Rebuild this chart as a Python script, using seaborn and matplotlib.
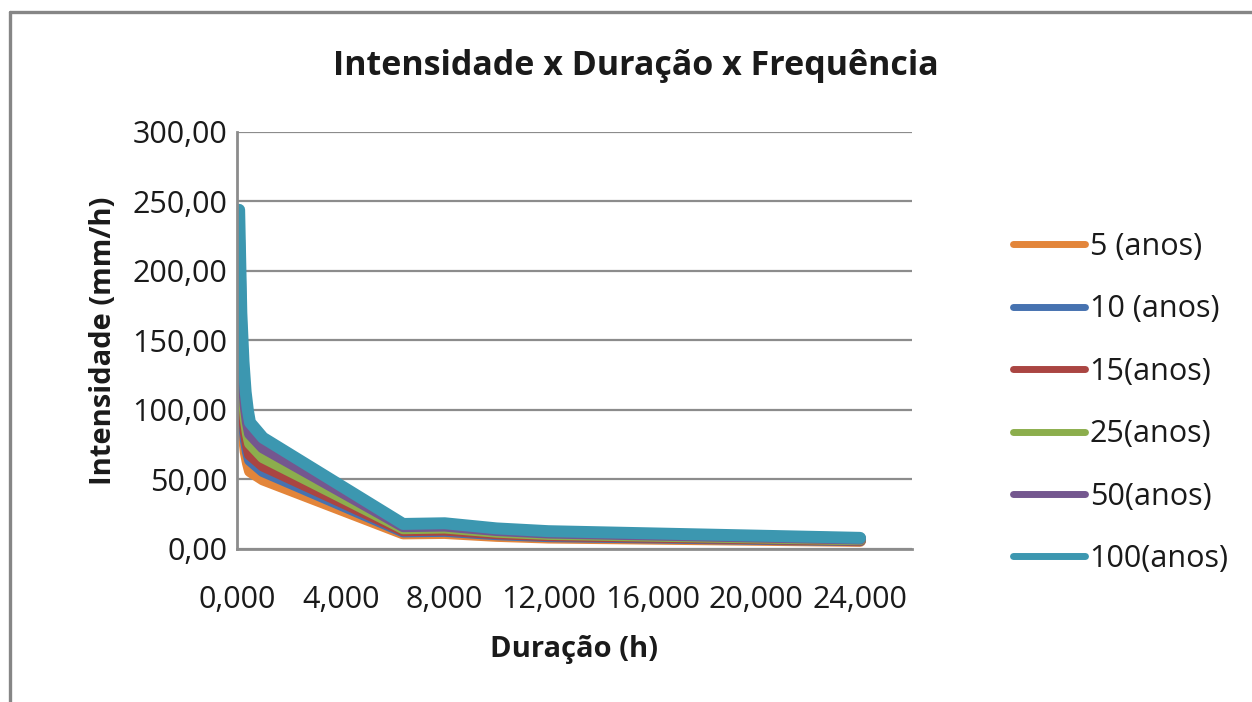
import matplotlib
matplotlib.use("Agg")
import matplotlib.pyplot as plt
from matplotlib.lines import Line2D
from matplotlib.ticker import FuncFormatter
import numpy as np
import pandas as pd
import seaborn as sns

# Durações (h) e intensidades (mm/h) por período de retorno
duracao_h = [0.083, 0.167, 0.25, 0.333, 0.417, 0.5, 1.0, 6.4, 8.0, 10.0, 12.0, 24.0]
i_5 = [151, 105, 84, 70, 62, 56, 50, 11.2, 11.5, 9.4, 8.2, 5.8]
i_10 = [171, 119, 95, 79, 70, 64, 56, 12.6, 13.0, 10.6, 9.2, 6.3]
i_15 = [183, 128, 101, 85, 75, 68, 60, 13.5, 13.9, 11.3, 9.9, 6.6]
i_25 = [203, 141, 112, 94, 83, 76, 66, 14.9, 15.4, 12.4, 10.8, 7.0]
i_50 = [222, 155, 123, 103, 91, 83, 73, 16.4, 16.8, 13.6, 11.8, 7.5]
i_100 = [244, 170, 135, 113, 100, 91, 80, 18.0, 18.5, 14.8, 12.8, 8.0]

series_labels = ["5 (anos)", "10 (anos)", "15(anos)", "25(anos)", "50(anos)", "100(anos)"]
series_values = [i_5, i_10, i_15, i_25, i_50, i_100]
colors = ["#E3853A", "#4672B0", "#AA4542", "#8CAE4D", "#74578F", "#3C97B0"]

x_ticks = [0, 4, 8, 12, 16, 20, 24]
y_ticks = [0, 50, 100, 150, 200, 250, 300]

df = pd.DataFrame({
    "Duração (h)": np.tile(duracao_h, len(series_labels)),
    "Intensidade (mm/h)": np.concatenate(series_values),
    "TR": np.repeat(series_labels, len(duracao_h)),
})

sns.set_theme(style="white")
plt.rcParams["font.family"] = ["Open Sans", "DejaVu Sans"]

fig = plt.figure(figsize=(12.52, 7.02), dpi=100)
ax = fig.add_axes([0.1893, 0.218, 0.7284 - 0.1893, 0.812 - 0.218])

grid_color = "#8C8C8C"
text_color = "#1a1a1a"
for y in y_ticks:
    ax.axhline(y, color=grid_color, lw=1.6, zorder=0)

sns.lineplot(
    data=df, x="Duração (h)", y="Intensidade (mm/h)", hue="TR",
    hue_order=series_labels, palette=colors, linewidth=8.6,
    solid_capstyle="round", solid_joinstyle="round", ax=ax, legend=True,
)

ax.set_xlim(0, 26)
ax.set_ylim(0, 300)
ax.set_xticks(x_ticks)
ax.set_yticks(y_ticks)
ax.xaxis.set_major_formatter(FuncFormatter(lambda v, p: f"{v:.3f}".replace(".", ",")))
ax.yaxis.set_major_formatter(FuncFormatter(lambda v, p: f"{v:.2f}".replace(".", ",")))
ax.tick_params(axis="both", length=0, labelsize=22, colors=text_color)
ax.tick_params(axis="x", pad=26)
ax.tick_params(axis="y", pad=7)

for side in ["top", "right"]:
    ax.spines[side].set_visible(False)
for side in ["left", "bottom"]:
    ax.spines[side].set_color(grid_color)
    ax.spines[side].set_linewidth(2)

ax.set_xlabel("Duração (h)", fontsize=21, fontweight="bold", labelpad=14, color=text_color)
ax.set_ylabel("Intensidade (mm/h)", fontsize=21, fontweight="bold", labelpad=10, color=text_color)

fig.text(0.508, 0.906, "Intensidade x Duração x Frequência", ha="center", va="center",
         fontsize=24.5, fontweight="bold", color=text_color)

leg = ax.legend(loc="center left", bbox_to_anchor=(1.132, 0.35), frameon=False,
                fontsize=22, handlelength=2.35, handletextpad=0.15, labelspacing=1.06,
                borderaxespad=0)
for line in leg.get_lines():
    line.set_linewidth(5)
    line.set_solid_capstyle("round")
for t in leg.get_texts():
    t.set_color(text_color)

# moldura do gráfico
fig.add_artist(Line2D([10 / 1252, 1.0], [1 - 12 / 702, 1 - 12 / 702],
                      transform=fig.transFigure, color="#868686", lw=2.4))
fig.add_artist(Line2D([10 / 1252, 10 / 1252], [0.0, 1 - 12 / 702],
                      transform=fig.transFigure, color="#868686", lw=2.4))

fig.savefig("out.png", dpi=100)
